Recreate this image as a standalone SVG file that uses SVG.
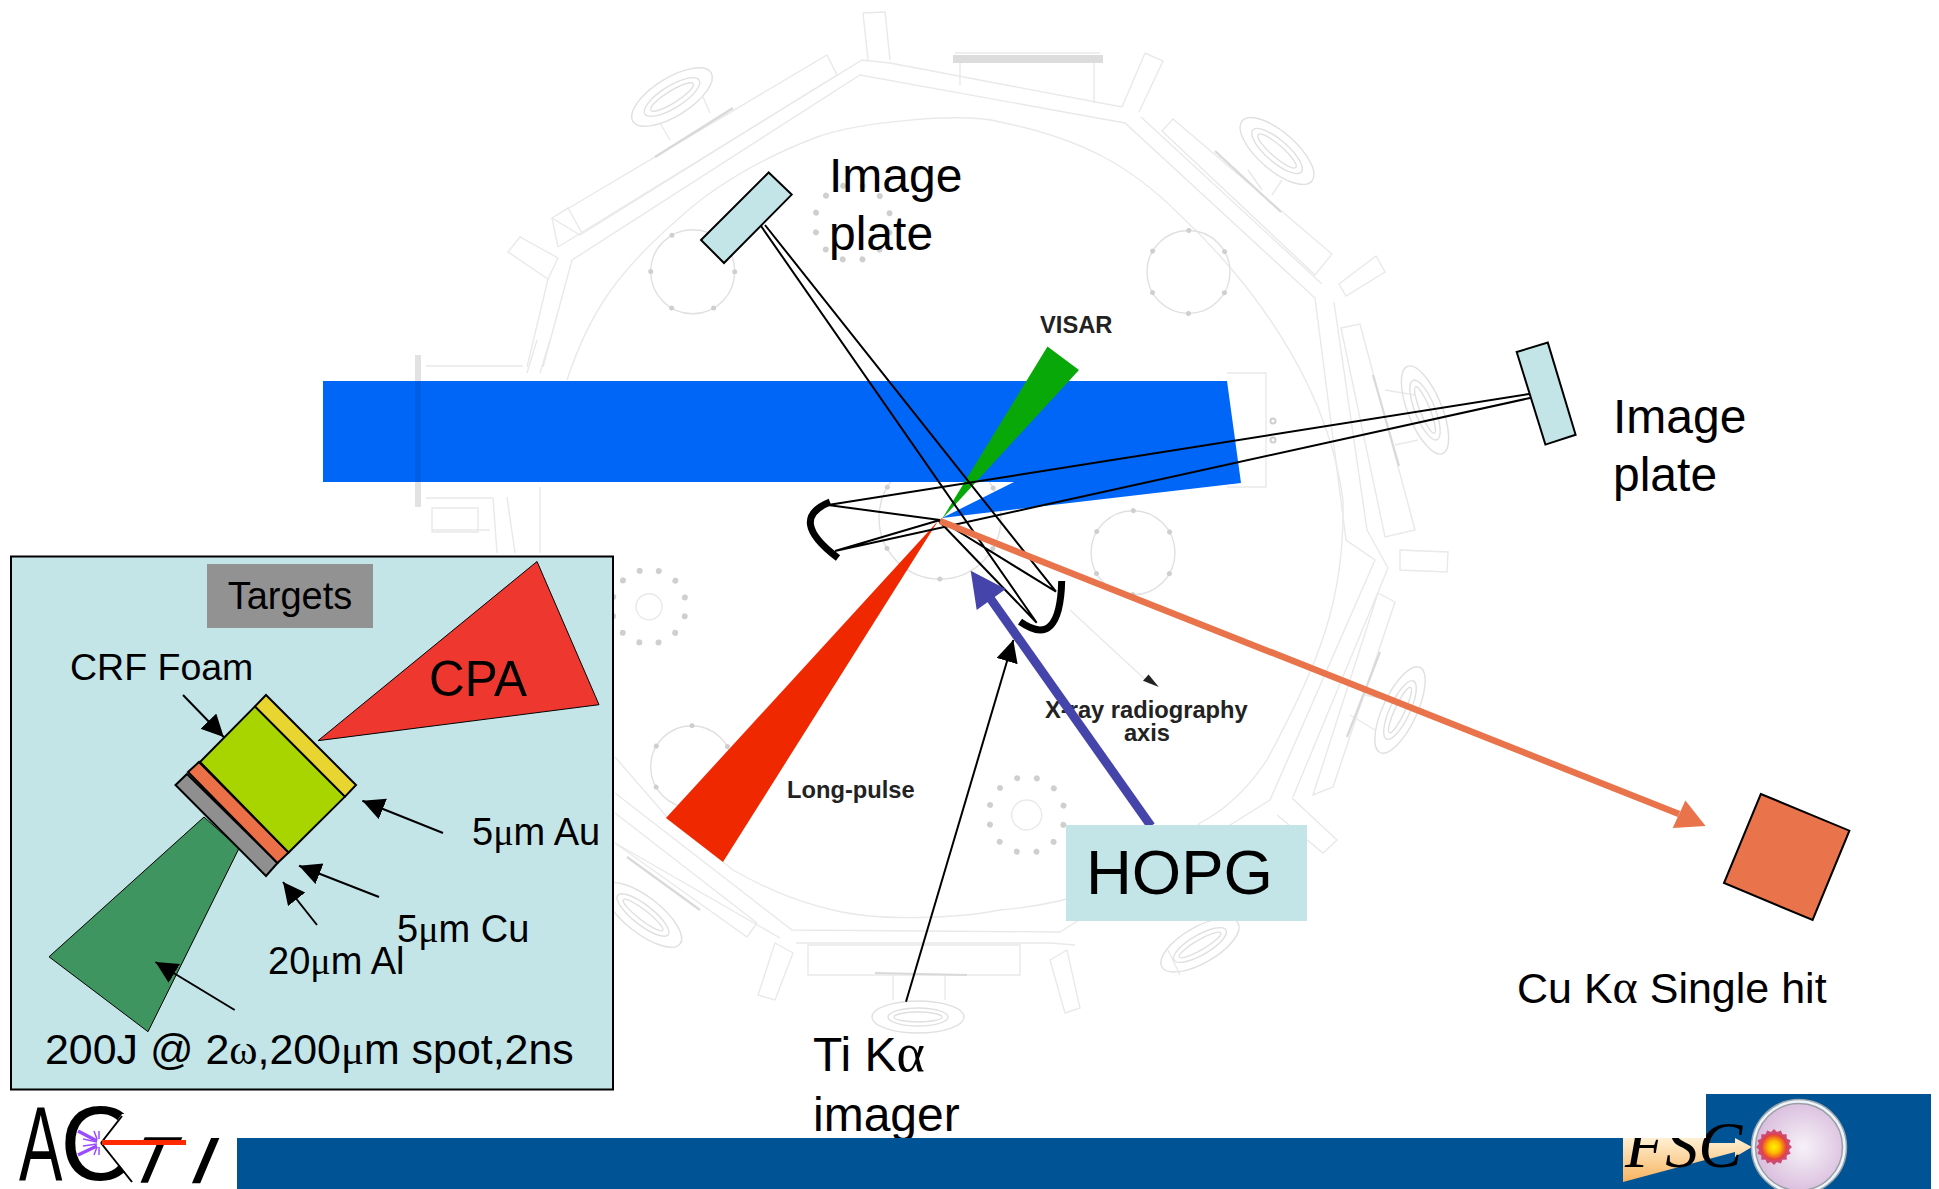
<svg xmlns="http://www.w3.org/2000/svg" xmlns:xlink="http://www.w3.org/1999/xlink" width="1939" height="1189" viewBox="0 0 1939 1189">
<style>
text{font-family:"Liberation Sans",Arial,sans-serif;fill:#000}
.sym{font-family:"Liberation Serif","Times New Roman",serif}
.big{font-size:48px}
.mid{font-size:37.5px}
.lab{font-size:23.7px;font-weight:bold;fill:#222}
.c{fill:none;stroke:#e9e9e9;stroke-width:1.4}
.c2{fill:none;stroke:#e0e0e0;stroke-width:1.4}
.bar{fill:none;stroke:#d9d9d9;stroke-width:2.2}
.ring{fill:none;stroke:#cfcfcf;stroke-linecap:round}
.beam{fill:none;stroke:#000;stroke-width:2}
.ptr{fill:none;stroke:#000;stroke-width:2}
.out{stroke:#000;stroke-width:2;stroke-linejoin:miter}
.cyan{fill:#C3E5E8}
.mir{fill:none;stroke:#000;stroke-width:7}
.ray{stroke:#9A4DFF;fill:none}
</style>
<defs>
<marker id="head" markerUnits="userSpaceOnUse" markerWidth="24" markerHeight="24" refX="22" refY="11" orient="auto"><path d="M0,0 L22,11 L0,22 Z" fill="#000"/></marker>
<radialGradient id="sph" cx="0.55" cy="0.5" r="0.55"><stop offset="0" stop-color="#F6F1F8"/><stop offset="1" stop-color="#D9BDDD"/></radialGradient>
<radialGradient id="burst"><stop offset="0" stop-color="#FFF200"/><stop offset="0.45" stop-color="#FFC000"/><stop offset="1" stop-color="#E6353B"/></radialGradient>
<linearGradient id="gold" x1="0" y1="0" x2="0" y2="1"><stop offset="0" stop-color="#FFF0D4"/><stop offset="1" stop-color="#F7B35E"/></linearGradient>
<rect id="sq" x="-12.7" y="-12.7" width="25.4" height="25.4" fill="#CF4A6E"/>
</defs>
<rect width="1939" height="1189" fill="#fff"/>

<g id="chamber">
<path class="c" d="M548,279 L527,367 M558,247 L552,218 M558,247 L862,60 L890,63 L1122,107 M1141,117 L1322,284 M1334,302 L1367,530 L1388,568 L1293,797 M1075,945 L1050,943 L796,943 M780,938 L615,843"/>
<path class="c" d="M543,367 L572,260 L860,75 L1125,123 L1315,298 L1346,540 L1375,560 L1270,800 L1190,850 L1060,932 L792,930 L615,793"/>
<path class="c" d="M567,380 C590,310 620,270 677,220 C720,180 770,155 817,137 C860,122 960,112 1000,122 C1080,138 1130,165 1180,215 C1270,300 1330,400 1343,500 C1345,600 1320,660 1267,760 C1240,800 1215,815 1200,823 C1130,890 1060,905 1000,910 C960,918 880,922 833,910 C790,900 760,885 733,870 L667,817 L615,757"/>
<path class="c" d="M537,340 L527,373 M550,340 L540,373 M493,497 L497,553 M507,497 L515,553 M540,487 L540,553"/>
<path class="c" d="M863,13 L885,12 L890,60 M863,13 L868,60 M1145,53 L1163,61 L1139,112 M1145,53 L1122,107 M508,252 L520,237 L558,258 L548,279 Z"/>
<path class="c" d="M552,218 L827,55 L837,75 L580,235 Z M552,218 L568,208 L582,233 M1162,131 L1173,119 L1332,254 L1315,275 Z"/>
<path class="c" d="M1339,284 L1376,256 L1385,272 L1346,296 Z M1341,328 L1360,324 L1415,530 L1385,537 Z M1400,550 L1448,552 L1447,572 L1400,570 Z M1378,593 L1395,602 L1333,787 L1313,795 Z M1292,798 L1337,840 L1323,853 L1277,815"/>
<path class="c" d="M1050,960 L1067,950 L1080,1008 L1065,1013 Z M775,943 L793,953 L775,1000 L758,995 Z M808,945 L1020,945 L1020,975 L808,975 Z M757,923 L747,937 L615,843 M615,813 L757,923"/>
<path class="c" d="M1227,373 L1266,373 L1266,487 L1227,487 M426,366 L523,366 M426,498 L492,498 M432,508 L478,508 L478,532 L432,532 Z M432,530 L490,530"/>
<path class="c" d="M1070,610 L1150,684 M955,53 L1100,53 M960,63 L960,85 M1094,63 L1094,103 M660,123 L670,140 M703,97 L710,113 M1248,170 L1262,190 M1272,195 L1282,180 M1385,390 L1415,395 M1395,445 L1418,440 M1365,695 L1390,700 M1350,715 L1375,730 M1168,950 L1180,975 M893,975 L893,1000 M945,975 L945,1000"/>
<path d="M418,355 L418,507" fill="none" stroke="#e2e2e2" stroke-width="6"/>
<path d="M953,59 L1103,59" fill="none" stroke="#dcdcdc" stroke-width="8"/>
<path class="bar" d="M655,157 L733,108 M1215,151 L1281,212 M1373,375 L1399,466 M1380,652 L1347,737 M875,973 L967,975 M627,857 L700,910"/>
<g id="flanges">
<g transform="translate(672,97) rotate(-32)"><ellipse class="c2" rx="46" ry="19"/><ellipse class="c2" rx="32" ry="11"/><ellipse class="c2" rx="25" ry="6"/></g>
<g transform="translate(1277,151) rotate(41)"><ellipse class="c2" rx="46" ry="19"/><ellipse class="c2" rx="32" ry="11"/><ellipse class="c2" rx="25" ry="6"/></g>
<g transform="translate(1425,410) rotate(68)"><ellipse class="c2" rx="47" ry="17"/><ellipse class="c2" rx="32" ry="10"/><ellipse class="c2" rx="25" ry="5"/></g>
<g transform="translate(1400,710) rotate(-65)"><ellipse class="c2" rx="47" ry="17"/><ellipse class="c2" rx="32" ry="10"/><ellipse class="c2" rx="25" ry="5"/></g>
<g transform="translate(1200,945) rotate(-30)"><ellipse class="c2" rx="44" ry="18"/><ellipse class="c2" rx="30" ry="10"/><ellipse class="c2" rx="24" ry="5"/></g>
<g transform="translate(918,1017)"><ellipse class="c2" rx="46" ry="16"/><ellipse class="c2" rx="30" ry="9"/><ellipse class="c2" rx="24" ry="5"/></g>
<g transform="translate(643,915) rotate(38)"><ellipse class="c2" rx="47" ry="18"/><ellipse class="c2" rx="32" ry="10"/><ellipse class="c2" rx="25" ry="5"/></g>
</g>
<g id="ports">
<circle class="c2" cx="692.7" cy="271.7" r="42"/><circle class="ring" cx="692.7" cy="271.7" r="42" stroke-width="5" stroke-dasharray="0 43.98"/>
<circle class="c2" cx="1188.5" cy="272" r="41.5"/><circle class="ring" cx="1188.5" cy="272" r="41.5" stroke-width="5" stroke-dasharray="0 43.46" transform="rotate(30 1188.5 272)"/>
<circle class="c2" cx="1133" cy="552.7" r="42"/><circle class="ring" cx="1133" cy="552.7" r="42" stroke-width="5" stroke-dasharray="0 43.98" transform="rotate(30 1133 552.7)"/>
<circle class="c2" cx="691.7" cy="766.7" r="41"/><circle class="ring" cx="691.7" cy="766.7" r="41" stroke-width="5" stroke-dasharray="0 42.94" transform="rotate(30 691.7 766.7)"/>
<circle class="c2" cx="940" cy="518" r="61"/><circle class="ring" cx="940" cy="518" r="61" stroke-width="5" stroke-dasharray="0 63.9" transform="rotate(30 940 518)"/>
<circle class="ring" cx="852.7" cy="222.7" r="38" stroke-width="6" stroke-dasharray="0 19.9" transform="rotate(15 852.7 222.7)"/>
<circle class="ring" cx="649" cy="606.7" r="37" stroke-width="6" stroke-dasharray="0 19.37" transform="rotate(15 649 606.7)"/>
<circle class="c" cx="649" cy="606.7" r="13"/>
<circle class="ring" cx="1026.7" cy="815" r="38" stroke-width="6" stroke-dasharray="0 19.9" transform="rotate(15 1026.7 815)"/>
<circle class="c" cx="1026.7" cy="815" r="15"/>
<circle class="ring" cx="1273" cy="421" r="1" stroke-width="5"/><circle class="ring" cx="1273" cy="440" r="1" stroke-width="5"/>
</g>
<polygon points="1148.6,674.5 1158.8,687 1143,680.7" fill="#222"/>
</g>

<g id="long-pulse-beam-blue"><polygon points="323,381 1227,381 1241,483 942,518 1014,482 323,482" fill="#0066F8"/></g>
<g id="visar-beam"><polygon points="1047.5,346.5 1079,370 942,519" fill="#08A808"/></g>
<g id="long-pulse-beam-red"><polygon points="938,521 666,818 723,862" fill="#F02800"/></g>
<path d="M418,381 L418,482" stroke="#000" stroke-opacity="0.08" stroke-width="6" fill="none"/>

<g id="labels">
<text class="lab" x="1040" y="333">VISAR</text>
<text class="lab" x="787" y="798">Long-pulse</text>
<text class="lab" x="1045" y="718">X-ray radiography</text>
<text class="lab" x="1147" y="741" text-anchor="middle">axis</text>
</g>

<g id="connectors">
<path class="beam" d="M828,505 L1529,394 M835,551 L1530,398 M828,505 L940,520 M835,551 L940,520 M761,226 L1036.7,622.7 M765,225 L1056,591.7 M938,520 L1036.7,622.7 M940,520 L1056,591.7"/>
<path class="mir" d="M830,502 Q787,519.5 838,558"/>
<path class="mir" d="M1061.7,581 Q1060,650 1020,621.7"/>
<line x1="940" y1="521" x2="1679" y2="814" stroke="#E9734A" stroke-width="6.5"/>
<polygon points="1705.6,826 1672.7,828 1685.4,800.6" fill="#E9734A"/>
<line x1="1151" y1="826" x2="990" y2="598" stroke="#4444AA" stroke-width="9"/>
<polygon points="970.7,570.7 976.7,610 1005.7,589" fill="#4444AA"/>
<line class="ptr" x1="906" y1="1001.7" x2="1013.3" y2="640" marker-end="url(#head)"/>
</g>

<g id="image-plate-top"><polygon class="cyan out" points="768.7,172.5 791.7,194.6 724,263 701,240"/><text class="big" x="829" y="192">Image</text><text class="big" x="829" y="250">plate</text></g>
<g id="image-plate-right"><polygon class="cyan out" points="1516.7,352 1547.8,342.6 1575.6,434.8 1545.4,444.6"/><text class="big" x="1613" y="433">Image</text><text class="big" x="1613" y="491">plate</text></g>
<g id="cu-detector"><polygon class="out" fill="#E9734A" points="1760.8,794 1849.4,830.7 1812.6,920 1724,883"/><text font-size="43" x="1517" y="1003">Cu K<tspan class="sym" font-size="48">α</tspan> Single hit</text></g>
<g id="ti-imager"><text class="big" x="813" y="1071">Ti K<tspan class="sym" font-size="54">α</tspan></text><text class="big" x="813" y="1131">imager</text></g>
<g id="hopg"><rect class="cyan" x="1066" y="825" width="241" height="96"/><text font-size="63.5" x="1086" y="894">HOPG</text></g>

<g id="targets-panel">
<rect x="11" y="556.5" width="602" height="533" class="cyan" stroke="#000" stroke-width="2"/>
<rect x="207" y="564" width="166" height="64" fill="#929292"/>
<text x="290" y="609" text-anchor="middle" font-size="38">Targets</text>
<polygon points="537,561.5 599,704.7 318,740.7" fill="#EE382F" stroke="#000" stroke-width="1"/>
<text font-size="49.5" x="429" y="696">CPA</text>
<polygon points="204,817 239,848.4 148,1031.7 49,956.8" fill="#3E9560" stroke="#000" stroke-width="1"/>
<polygon class="out" fill="#8F8F8F" points="187,774 277.5,863 266,876 175.5,785"/>
<polygon class="out" fill="#EB7048" points="199,762 288.6,852.5 277.5,863 188,772"/>
<polygon class="out" fill="#A8D400" points="255,706.4 345,796.6 288.6,852.5 200,762"/>
<polygon class="out" fill="#E8D52F" points="266,695 356,785 345,796.6 255,706.4"/>
<text class="mid" x="70" y="680">CRF Foam</text>
<text font-size="38" x="472" y="845">5<tspan class="sym">μ</tspan>m Au</text>
<text font-size="38" x="397" y="942">5<tspan class="sym">μ</tspan>m Cu</text>
<text font-size="38" x="268" y="974">20<tspan class="sym">μ</tspan>m Al</text>
<text font-size="42.9" x="45" y="1064">200J @ 2<tspan class="sym">ω</tspan>,200<tspan class="sym">μ</tspan>m spot,2ns</text>
<g id="target-arrows">
<line class="ptr" x1="183" y1="695" x2="223.7" y2="737" marker-end="url(#head)"/>
<line class="ptr" x1="443" y1="833" x2="362.4" y2="800.8" marker-end="url(#head)"/>
<line class="ptr" x1="379" y1="897" x2="299" y2="865.7" marker-end="url(#head)"/>
<line class="ptr" x1="317" y1="925" x2="283" y2="882" marker-end="url(#head)"/>
<line class="ptr" x1="234.7" y1="1010" x2="155.5" y2="962" marker-end="url(#head)"/>
</g>
</g>

<g id="footer-bar">
<rect x="237" y="1138" width="1694" height="51" fill="#005394"/>
<rect x="1706" y="1094" width="225" height="95" fill="#005394"/>
</g>
<g id="fsc-logo">
<polygon points="1623,1138 1706,1138 1706,1143 1735,1143 1735,1138 1752,1147 1735,1157 1735,1152 1623,1182" fill="url(#gold)"/>
<text font-style="italic" font-size="66" x="1625" y="1167" style="font-family:'Liberation Serif',serif">FSC</text>
<rect x="1600" y="1094" width="106" height="44" fill="#fff"/>
<circle cx="1799" cy="1147" r="47.5" fill="#EDF3F8" stroke="#9AA6AE" stroke-width="1.5"/>
<circle cx="1799" cy="1147" r="43.5" fill="url(#sph)" stroke="#9AA0A6" stroke-width="1.5"/>
<g transform="translate(1774,1147)"><use xlink:href="#sq" href="#sq"/><use xlink:href="#sq" href="#sq" transform="rotate(22.5)"/><use xlink:href="#sq" href="#sq" transform="rotate(45)"/><use xlink:href="#sq" href="#sq" transform="rotate(67.5)"/><circle r="13" fill="url(#burst)"/></g>
</g>
<g id="act-logo">
<text transform="translate(19,1180) scale(0.62,1)" font-size="105">A</text>
<text x="60" y="1180" font-size="105">C</text>
<polygon points="101,1143 122,1114 142,1114 142,1180 133,1182" fill="#fff"/>
<path d="M101,1143 L122,1116 M101,1143 L132,1182" stroke="#000" stroke-width="2" fill="none"/>
<path class="ray" stroke-width="3.5" d="M78,1131 L97,1141 M78,1155 L97,1146"/>
<path class="ray" stroke-width="1.5" d="M83,1139 L97,1142 M83,1146 L97,1144 M94,1131 L97,1139 M99,1131 L99,1139 M94,1155 L97,1147 M99,1155 L99,1147"/>
<text stroke="#000" stroke-width="1.5" transform="translate(125,1182) skewX(-23)" font-size="64">T</text>
<text stroke="#000" stroke-width="2.5" transform="translate(188,1182) skewX(-23)" font-size="62">I</text>
<line x1="102" y1="1142.5" x2="186" y2="1142.5" stroke="#FF2A00" stroke-width="5"/>
</g>
</svg>
